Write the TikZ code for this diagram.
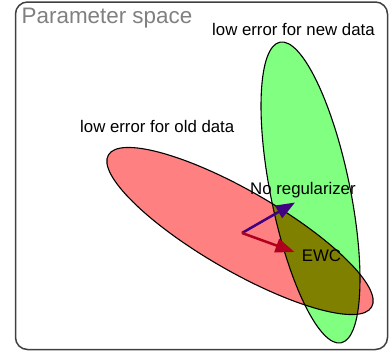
\documentclass[tikz,border=0pt]{standalone}
\usepackage{fontspec}
\setmainfont{Liberation Sans}
\usetikzlibrary{arrows.meta}
\definecolor{oldfill}{RGB}{255,128,128}
\definecolor{newfill}{RGB}{128,255,128}
\definecolor{bothfill}{RGB}{128,128,0}
\definecolor{noregcol}{RGB}{64,0,128}
\definecolor{ewccol}{RGB}{176,0,32}
\tikzset{>={Triangle[length=19pt,width=14pt]},x=1pt,y=1pt}
\tikzset{
    framebox/.style={draw=black!75,line width=1.5pt,rounded corners=12pt},
    rim/.style={draw=black,line width=1.1pt},
    oldregion/.style={rotate around={-30:(240,-231)}},
    newregion/.style={rotate around={11.5:(310.5,-192.5)}},
    txt/.style={anchor=base west,inner sep=0pt,font=\fontsize{16.8}{20}\selectfont},
    update/.style={->,line width=2.5pt}
}

\begin{document}
\begin{tikzpicture}
\useasboundingbox (0,0) rectangle (389,-354);
    \draw[framebox] (15.5,-2) rectangle (387.5,-349.5);
    % the two low error regions
    \fill[oldfill,oldregion] (240,-231) ellipse [x radius=152, y radius=40];
    \fill[newfill,newregion] (310.5,-192.5) ellipse [x radius=39.7, y radius=153.4];
    \begin{scope}
        \clip[oldregion] (240,-231) ellipse [x radius=152, y radius=40];
        \fill[bothfill,newregion] (310.5,-192.5) ellipse [x radius=39.7, y radius=153.4];
    \end{scope}
    \draw[rim,oldregion] (240,-231) ellipse [x radius=152, y radius=40];
    \draw[rim,newregion] (310.5,-192.5) ellipse [x radius=39.7, y radius=153.4];
    % labels
    \node[txt,text=black!50,font=\fontsize{22.4}{26}\selectfont] (space) at (21.5,-23.3) {Parameter space};
    \node[txt] (newdata) at (212,-35.3) {low error for new data};
    \node[txt] (olddata) at (80,-132.3) {low error for old data};
    \node[txt] (noreg) at (250,-194.3) {No regularizer};
    \node[txt] (ewc) at (301.7,-261.7) {EWC};
    % updates
    \coordinate (w0) at (242,-233);
    \coordinate (wnoreg) at (295,-202.5);
    \coordinate (wewc) at (294.5,-252);
    \draw[update,noregcol] (w0) -- (wnoreg);
    \draw[update,ewccol] (w0) -- (wewc);
\end{tikzpicture}
\end{document}
